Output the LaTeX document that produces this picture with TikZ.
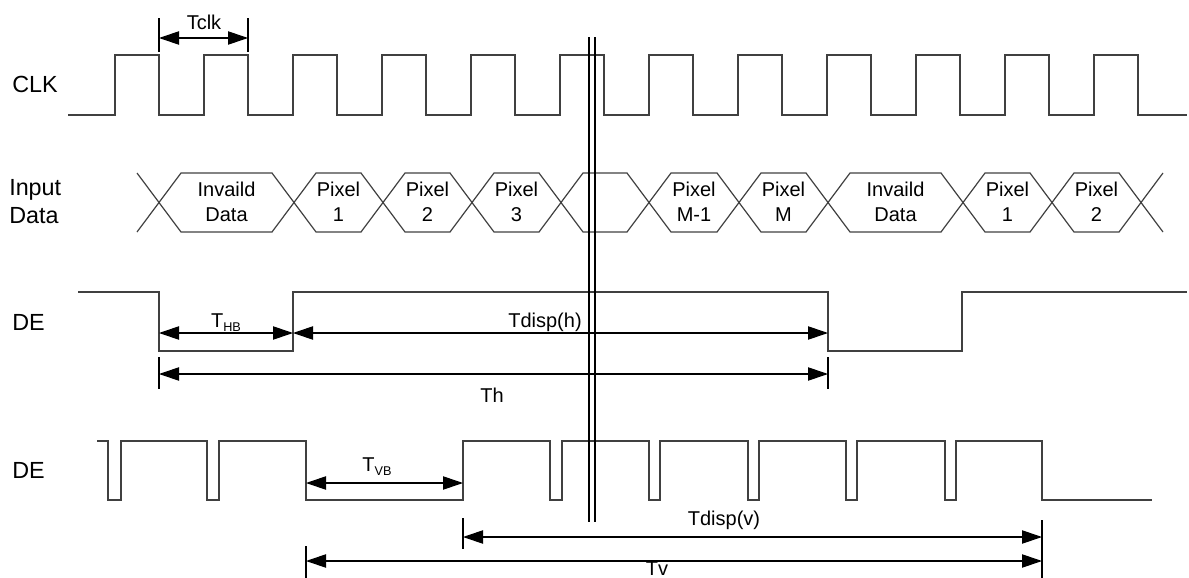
\documentclass[tikz,border=0pt]{standalone}
\usepackage{fontspec}
\setmainfont{Liberation Sans}
\usetikzlibrary{arrows.meta}

\tikzset{
  sig/.style={line width=0.9pt, draw=black!75},
  dim/.style={line width=0.8pt, {Triangle[length=15pt,width=10pt]}-{Triangle[length=15pt,width=10pt]}},
  tick/.style={line width=0.8pt},
  rowlabel/.style={font=\fontsize{17.5}{21}\selectfont, anchor=west, align=left, inner sep=0pt},
  celltext/.style={font=\fontsize{15}{18.75}\selectfont, align=center, inner sep=0pt},
  dimtext/.style={font=\fontsize{15}{18}\selectfont, inner sep=0pt}
}

\begin{document}
\begin{tikzpicture}[x=0.75pt, y=-0.75pt]
            \useasboundingbox (0,0) rectangle (1189,578);

            % row labels
            \node[rowlabel] (clk) at (12,84) {CLK};
            \node[rowlabel] (indata) at (9,202) {Input\\Data};
            \node[rowlabel] (de1) at (12,322) {DE};
            \node[rowlabel] (de2) at (12,470) {DE};

            % clock
            \draw[sig] (68,115) -- (115,115) -- (115,55) -- (159,55) -- (159,115) -- (204,115) -- (204,55) -- (248,55) -- (248,115)
                -- (293,115) -- (293,55) -- (337,55) -- (337,115) -- (382,115) -- (382,55) -- (426,55) -- (426,115)
                -- (471,115) -- (471,55) -- (515,55) -- (515,115) -- (560,115) -- (560,55) -- (604,55) -- (604,115)
                -- (649,115) -- (649,55) -- (693,55) -- (693,115) -- (738,115) -- (738,55) -- (782,55) -- (782,115)
                -- (827,115) -- (827,55) -- (871,55) -- (871,115) -- (916,115) -- (916,55) -- (960,55) -- (960,115)
                -- (1005,115) -- (1005,55) -- (1049,55) -- (1049,115) -- (1094,115) -- (1094,55) -- (1138,55) -- (1138,115) -- (1187,115);

            \coordinate (tclk0) at (159,38);
            \coordinate (tclk1) at (248,38);
            \draw[tick] (159,18) -- (159,52);
            \draw[tick] (248,18) -- (248,52);
            \draw[dim] (tclk0) -- (tclk1);
            \node[dimtext] (tclk) at (204,22) {Tclk};

            % input data
            \draw[sig] (137,232) -- (159,202.5) -- (181,173) -- (272,173) -- (294,202.5) -- (316,173) -- (361,173) -- (383,202.5)
                -- (405,173) -- (450,173) -- (472,202.5) -- (494,173) -- (539,173) -- (561,202.5) -- (583,173) -- (627,173)
                -- (649,202.5) -- (671,173) -- (717,173) -- (739,202.5) -- (761,173) -- (806,173) -- (828,202.5) -- (850,173)
                -- (941,173) -- (963,202.5) -- (985,173) -- (1030,173) -- (1052,202.5) -- (1074,173) -- (1119,173) -- (1141,202.5) -- (1163,232);
            \draw[sig] (137,173) -- (159,202.5) -- (181,232) -- (272,232) -- (294,202.5) -- (316,232) -- (361,232) -- (383,202.5)
                -- (405,232) -- (450,232) -- (472,202.5) -- (494,232) -- (539,232) -- (561,202.5) -- (583,232) -- (627,232)
                -- (649,202.5) -- (671,232) -- (717,232) -- (739,202.5) -- (761,232) -- (806,232) -- (828,202.5) -- (850,232)
                -- (941,232) -- (963,202.5) -- (985,232) -- (1030,232) -- (1052,202.5) -- (1074,232) -- (1119,232) -- (1141,202.5) -- (1163,173);

            \node[celltext] (inv1) at (226.5,202) {Invaild\\Data};
            \node[celltext] (px1) at (338.5,202) {Pixel\\1};
            \node[celltext] (px2) at (427.5,202) {Pixel\\2};
            \node[celltext] (px3) at (516.5,202) {Pixel\\3};
            \node[celltext] (pxm1) at (694,202) {Pixel\\M-1};
            \node[celltext] (pxm) at (783.5,202) {Pixel\\M};
            \node[celltext] (inv2) at (895.5,202) {Invaild\\Data};
            \node[celltext] (pxb1) at (1007.5,202) {Pixel\\1};
            \node[celltext] (pxb2) at (1096.5,202) {Pixel\\2};

            % DE, one line
            \draw[sig] (78,292) -- (159,292) -- (159,351) -- (293,351) -- (293,292) -- (828,292) -- (828,351) -- (962,351) -- (962,292) -- (1187,292);

            \coordinate (hb0) at (159,333);
            \coordinate (hb1) at (293,333);
            \coordinate (hd1) at (828,333);
            \draw[dim] (hb0) -- (hb1);
            \draw[dim] (hb1) -- (hd1);
            \node[dimtext] (thb) at (226,323) {T\raisebox{-3pt}{\fontsize{9.5}{9.5}\selectfont HB}};
            \node[dimtext] (tdh) at (545,322) {Tdisp(h)};

            \coordinate (th0) at (159,374);
            \coordinate (th1) at (828,374);
            \draw[tick] (159,357) -- (159,389);
            \draw[tick] (828,357) -- (828,389);
            \draw[dim] (th0) -- (th1);
            \node[dimtext] (th) at (492,395) {Th};

            % DE, one frame
            \draw[sig] (97,441) -- (108,441) -- (108,500) -- (121,500) -- (121,441) -- (207,441) -- (207,500) -- (219,500) -- (219,441)
                -- (306,441) -- (306,500) -- (463,500) -- (463,441) -- (550,441) -- (550,500) -- (562,500) -- (562,441)
                -- (649,441) -- (649,500) -- (660,500) -- (660,441) -- (748,441) -- (748,500) -- (759,500) -- (759,441)
                -- (846,441) -- (846,500) -- (857,500) -- (857,441) -- (945,441) -- (945,500) -- (956,500) -- (956,441)
                -- (1042,441) -- (1042,500) -- (1152,500);

            \coordinate (vb0) at (306,483);
            \coordinate (vb1) at (463,483);
            \draw[dim] (vb0) -- (vb1);
            \node[dimtext] (tvb) at (377,467) {T\raisebox{-3pt}{\fontsize{9.5}{9.5}\selectfont VB}};

            \coordinate (dv0) at (463,537);
            \coordinate (dv1) at (1042,537);
            \draw[tick] (463,518) -- (463,549);
            \draw[tick] (1042,520) -- (1042,578);
            \draw[dim] (dv0) -- (dv1);
            \node[dimtext] (tdv) at (724,520) {Tdisp(v)};

            \coordinate (tv0) at (306,561);
            \coordinate (tv1) at (1042,561);
            \draw[tick] (306,546) -- (306,578);
            \draw[dim] (tv0) -- (tv1);
            \node[dimtext] (tv) at (657,569) {Tv};

            % break
            \draw[tick] (589,37) -- (589,522);
            \draw[tick] (595,37) -- (595,522);
\end{tikzpicture}
\end{document}
